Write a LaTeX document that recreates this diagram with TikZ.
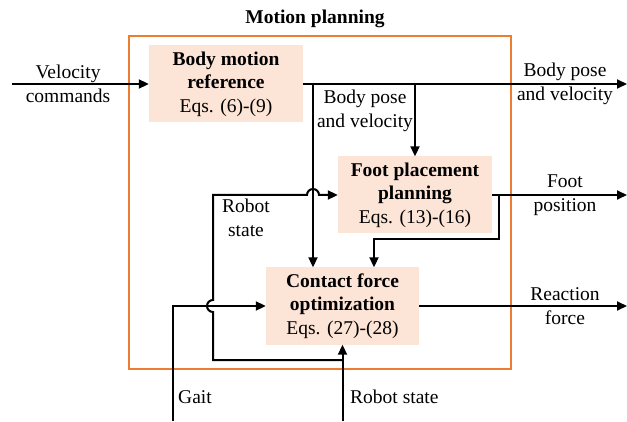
\documentclass[tikz,border=0pt]{standalone}
\usepackage{fontspec}
\setmainfont{Liberation Serif}
\usetikzlibrary{arrows.meta, calc}
\definecolor{frameorange}{RGB}{237,125,49}
\definecolor{blockfill}{RGB}{252,228,214}
\tikzset{
  every node/.style={font=\fontsize{19.5}{23.5}\selectfont, align=center, inner sep=0pt},
  block/.style={fill=blockfill, minimum width=154pt, minimum height=77pt},
  signal/.style={line width=2pt, -{Triangle[length=10pt,width=9pt]}},
  hop/.store in=\HopR,
  hop=6
}

\begin{document}
\begin{tikzpicture}[x=1pt, y=1pt, line cap=butt, line join=miter]
  \useasboundingbox (0,0) rectangle (627,421);

  % Outer frame of the planner
  \draw[frameorange, line width=2pt] (129,52) rectangle (511,385);
  \node[font=\fontsize{19.5}{23.5}\selectfont\bfseries] (title) at (315,402) {Motion planning};

  % The three blocks
  \node[block] (body) at (226,337) {\textbf{Body motion}\\\textbf{reference}\\Eqs. (6)-(9)};
  \node[block] (foot) at (415,226) {\textbf{Foot placement}\\\textbf{planning}\\Eqs. (13)-(16)};
  \node[block, minimum width=153pt] (contact) at (342.5,115) {\textbf{Contact force}\\\textbf{optimization}\\Eqs. (27)-(28)};

  % Free ends and turning points of the signals
  \coordinate (vin) at (12,337);
  \coordinate (bpout) at (627,337);
  \coordinate (fout) at (627,226);
  \coordinate (rout) at (627,115);
  \coordinate (split) at (313,337);
  \coordinate (fb) at (499,226);
  \coordinate (fbturn) at (374,182);
  \coordinate (gait) at (173,0);
  \coordinate (rs) at (342.5,0);
  \coordinate (rsturn) at (213,61);

  % Inputs and outputs
  \draw[signal] (vin) -- (body.west);
  \draw[signal] (body.east) -- (bpout);
  \draw[signal] (foot.east) -- (fout);
  \draw[signal] (contact.east) -- (rout);

  % Body pose and velocity to both lower blocks
  \draw[signal] (split) -- (split |- contact.north);
  \draw[signal] (foot.north |- body.east) -- (foot.north);

  % Foot position back to the force optimizer
  \draw[signal] (fb) -- (fb |- fbturn) -- (fbturn) -- (fbturn |- contact.north);

  % Gait and measured robot state
  \draw[signal] (gait) |- (contact.west);
  \draw[signal] (rs) -- (contact.south);
  \draw[signal] (rs |- rsturn) -- (rsturn) -- ++(0,{54-\HopR})
    arc[start angle=270, end angle=90, radius=\HopR]
    -- (rsturn |- foot.west) -- ($(split |- foot.west)+(-\HopR,0)$)
    arc[start angle=180, end angle=0, radius=\HopR]
    -- (foot.west);

  % Signal names
  \node (lvel) at (68,337) {Velocity\\[1pt]commands};
  \node (lbp) at (565,337) {Body pose\\[1pt]and velocity};
  \node (lbpin) at (365,310) {Body pose\\and velocity};
  \node (lfoot) at (565,226) {Foot\\[1pt]position};
  \node (lforce) at (565,115) {Reaction\\[1pt]force};
  \node (lrs) at (246,203) {Robot\\state};
  \node[anchor=west] (lgait) at (178,24) {Gait};
  \node[anchor=west] (lrsin) at (350,24) {Robot state};
\end{tikzpicture}
\end{document}
